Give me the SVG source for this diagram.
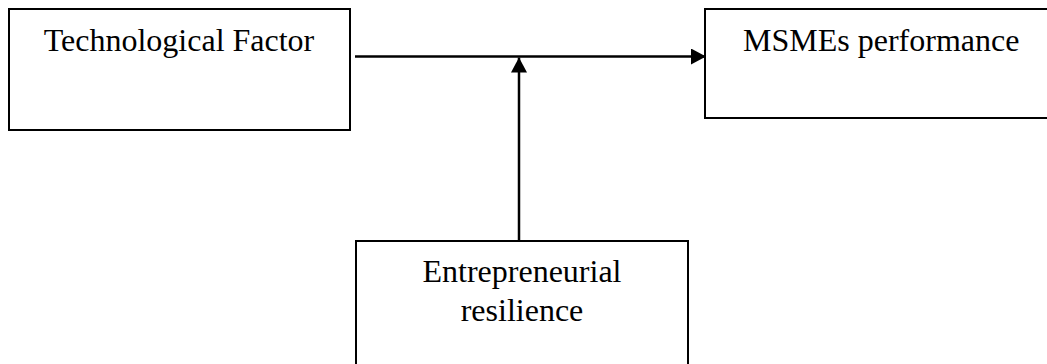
<svg xmlns="http://www.w3.org/2000/svg" width="1047" height="364" viewBox="0 0 1047 364">
  <style>
    .box { fill: #ffffff; stroke: #000000; stroke-width: 2; }
    .label { font-family: "Liberation Serif", "Times New Roman", serif; font-size: 32px; fill: #000000; }
    .link { fill: none; stroke: #000000; stroke-width: 2.5; }
  </style>
  <defs>
    <marker id="arrow" viewBox="0 0 15 16" refX="15" refY="8" markerWidth="15" markerHeight="16" markerUnits="userSpaceOnUse" orient="auto">
      <path d="M0,0 L15,8 L0,16 Z" fill="#000000"/>
    </marker>
  </defs>
  <rect x="0" y="0" width="1047" height="364" fill="#ffffff"/>

  <g id="technological-factor">
    <rect class="box" x="9" y="9" width="341" height="121"/>
    <text class="label" x="179" y="51" text-anchor="middle">Technological Factor</text>
  </g>

  <g id="msmes-performance">
    <rect class="box" x="705" y="9" width="360" height="109"/>
    <text class="label" x="743" y="51">MSMEs performance</text>
  </g>

  <g id="entrepreneurial-resilience">
    <rect class="box" x="356" y="241" width="332" height="140"/>
    <text class="label" x="522" y="282" text-anchor="middle">Entrepreneurial</text>
    <text class="label" x="522" y="321" text-anchor="middle">resilience</text>
  </g>

  <g id="connectors">
    <line class="link" x1="355" y1="56.5" x2="706" y2="56.5" marker-end="url(#arrow)"/>
    <line class="link" x1="519" y1="240" x2="519" y2="57.5" marker-end="url(#arrow)"/>
  </g>
</svg>
